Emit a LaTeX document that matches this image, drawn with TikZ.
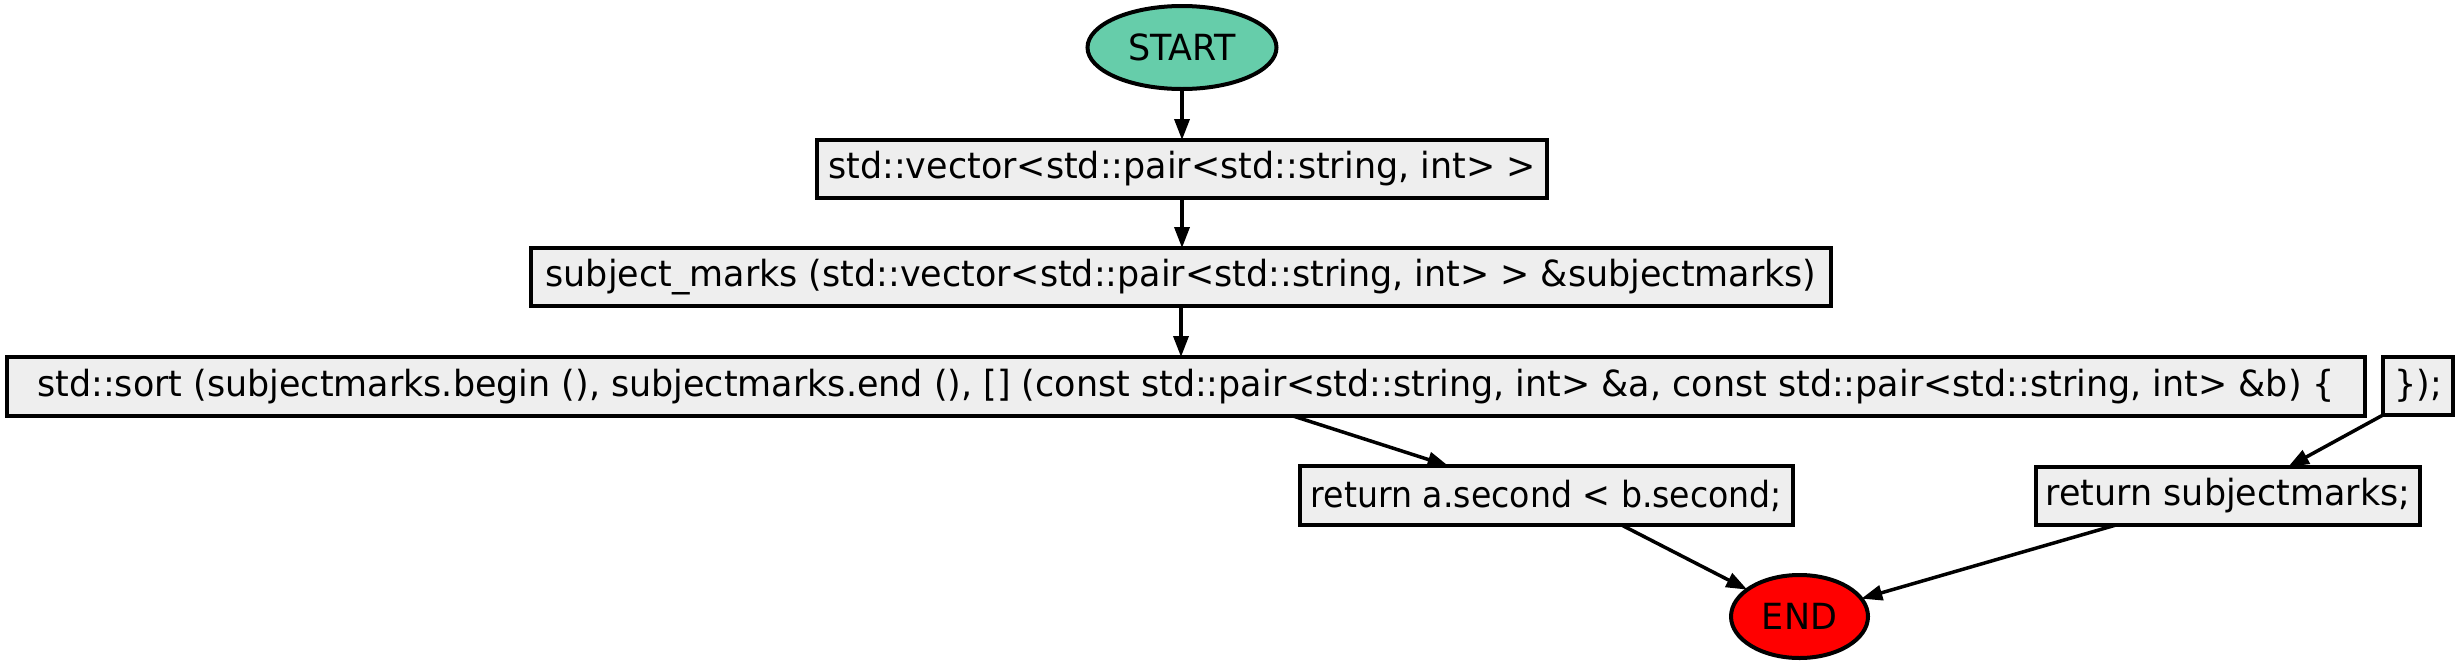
\documentclass[tikz,border=0pt]{standalone}
\usepackage{graphicx}
\usepackage{fontspec}
\setmainfont[FakeStretch=0.97]{DejaVu Sans}
\usetikzlibrary{arrows.meta,shapes.geometric}
\definecolor{startfill}{HTML}{66CDAA}
\definecolor{boxfill}{HTML}{EEEEEE}
\definecolor{endfill}{HTML}{FF0000}
\begin{document}
\begin{tikzpicture}[x=1pt,y=-1pt,
  every node/.style={font=\fontsize{36}{43}\selectfont, inner sep=0pt, outer sep=0pt},
  codebox/.style={draw=black, line width=4pt, fill=boxfill, rectangle},
  termnode/.style={draw=black, line width=4pt, ellipse},
  edge/.style={draw=black, line width=3.5pt, -{Triangle[length=21pt,width=15pt]}}]
\useasboundingbox (0,0) rectangle (2461,665);
\node[termnode, fill=startfill, minimum width=189pt, minimum height=83pt] (start) at (1182,47.5) {START};
\node[codebox, minimum width=730pt, minimum height=58pt] (b1) at (1182,169) {std::vector<std::pair<std::string, int> >};
\node[codebox, minimum width=1300pt, minimum height=58pt] (b2) at (1181,277) {subject\_marks (std::vector<std::pair<std::string, int> > \&subjectmarks)};
\node[codebox, minimum width=2358pt, minimum height=59pt] (b3) at (1186,386.5) {std::sort (subjectmarks.begin (), subjectmarks.end (), [] (const std::pair<std::string, int> \&a, const std::pair<std::string, int> \&b) \{};
\node[codebox, minimum width=70pt, minimum height=58pt] (b4) at (2418,386) {\});};
\node[codebox, minimum width=493pt, minimum height=59pt] (b5) at (1546.5,495.5) {\scalebox{0.95}[1]{return a.second < b.second;}};
\node[codebox, minimum width=384pt, minimum height=58pt] (b6) at (2228,496) {return subjectmarks;};
\node[termnode, fill=endfill, minimum width=137pt, minimum height=83pt] (end) at (1799.5,616.5) {END};
\draw[edge] (start.south) -- (b1.north);
\draw[edge] (b1.south) -- (b1.south |- b2.north);
\draw[edge] (b2.south) -- (b2.south |- b3.north);
\draw[edge] ([xshift=107pt]b3.south) -- ([xshift=-98pt]b5.north);
\draw[edge] (b4.south west) -- ([xshift=60pt]b6.north);
\draw[edge] ([xshift=75pt]b5.south) -- (end);
\draw[edge] ([xshift=-112pt]b6.south) -- (end);
\end{tikzpicture}
\end{document}
